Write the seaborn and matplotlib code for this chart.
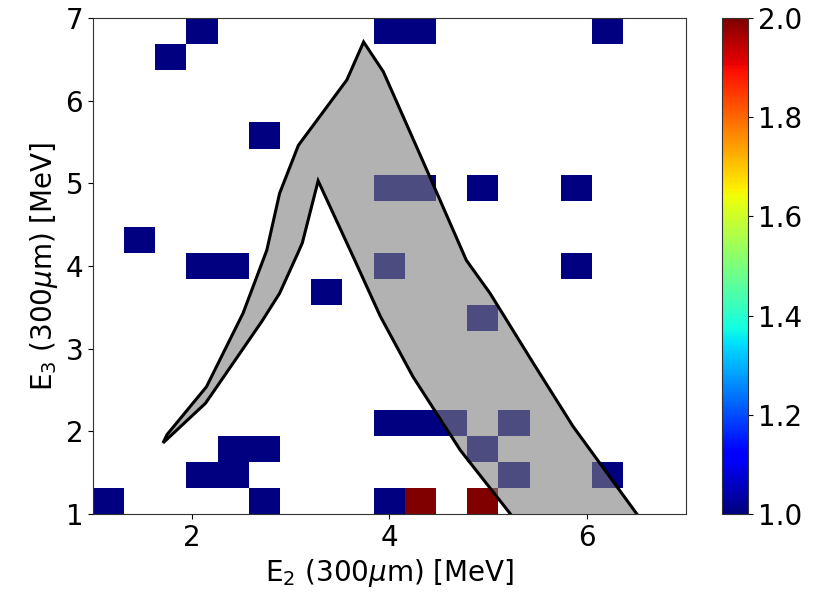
import matplotlib
matplotlib.use("Agg")
import matplotlib.pyplot as plt
import seaborn as sns
import pandas as pd

# events (one entry per count, red cells hold two)
e2_events = [2.11, 4.00, 4.32, 6.21,
             1.79,
             2.74,
             4.00, 4.32, 4.95, 5.89,
             1.47,
             2.11, 2.42, 4.00, 5.89,
             3.37,
             4.95,
             4.00, 4.32, 4.63, 5.26,
             2.42, 2.74, 4.95,
             2.11, 2.42, 5.26, 6.21,
             1.16, 2.74, 4.00, 4.32, 4.32, 4.95, 4.95]
e3_events = [6.84, 6.84, 6.84, 6.84,
             6.53,
             5.58,
             4.95, 4.95, 4.95, 4.95,
             4.32,
             4.00, 4.00, 4.00, 4.00,
             3.68,
             3.37,
             2.11, 2.11, 2.11, 2.11,
             1.79, 1.79, 1.79,
             1.47, 1.47, 1.47, 1.47,
             1.16, 1.16, 1.16, 1.16, 1.16, 1.16, 1.16]

# outline of the gray band (outer edge then inner edge)
band_e2 = [1.71, 1.75, 2.15, 2.52, 2.76, 2.89, 3.08, 3.57, 3.74, 3.94,
           4.41, 4.78, 5.02, 5.46, 5.86, 6.50, 6.57,
           5.29, 5.22, 4.72, 4.24, 3.91, 3.62, 3.28, 3.12, 3.08,
           2.89, 2.71, 2.14]
band_e3 = [1.86, 1.96, 2.54, 3.43, 4.19, 4.88, 5.46, 6.25, 6.71, 6.35,
           5.08, 4.07, 3.67, 2.82, 2.06, 1.01, 0.90,
           0.90, 1.01, 1.77, 2.66, 3.39, 4.15, 5.03, 4.28, 4.17,
           3.67, 3.33, 2.34]

cbar_ticks = [1.0, 1.2, 1.4, 1.6, 1.8, 2.0]
x_ticks = [2, 4, 6]
y_ticks = [1, 2, 3, 4, 5, 6, 7]

sns.set_style("ticks")
plt.rcParams["font.family"] = ["DejaVu Sans"]
plt.rcParams["font.size"] = 20
plt.rcParams["text.color"] = "black"
plt.rcParams["axes.labelcolor"] = "black"
plt.rcParams["xtick.color"] = "black"
plt.rcParams["ytick.color"] = "black"
plt.rcParams["axes.edgecolor"] = "#333333"

df = pd.DataFrame({"E2": e2_events, "E3": e3_events})

fig = plt.figure(figsize=(8.25, 6), dpi=100)
ax = fig.add_axes([0.1126, 0.1433, 0.7185, 0.8267])
cax = fig.add_axes([0.875, 0.1433, 0.032, 0.8267])

sns.histplot(data=df, x="E2", y="E3", bins=19, binrange=((1, 7), (1, 7)),
             cmap=matplotlib.colormaps["jet"], vmin=1, vmax=2,
             cbar=True, cbar_ax=cax,
             cbar_kws={"ticks": cbar_ticks, "format": "%.1f"}, ax=ax)

ax.fill(band_e2, band_e3, facecolor=(0.5, 0.5, 0.5, 0.6),
        edgecolor="black", linewidth=2.2, zorder=3)

ax.set_xlim(1, 7)
ax.set_ylim(1, 7)
ax.set_xticks(x_ticks)
ax.set_yticks(y_ticks)
ax.set_xlabel(r"E$_2$ (300$\mu$m) [MeV]", fontsize=20)
ax.set_ylabel(r"E$_3$ (300$\mu$m) [MeV]", fontsize=20)
ax.tick_params(labelsize=20)
cax.tick_params(labelsize=20)

fig.savefig("out.png", dpi=100)
